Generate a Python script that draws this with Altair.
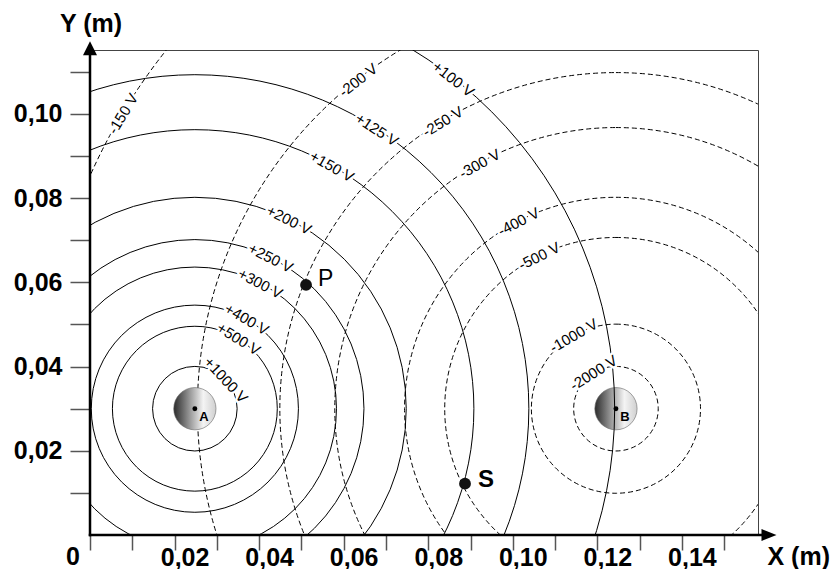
import altair as alt
import pandas as pd
import numpy as np

FONT = "Liberation Sans"

# ---- charges ----
charge_names = ["A", "B"]
charge_x = [0.0248, 0.1244]
charge_y = [0.0300, 0.0300]
sphere_radius = [0.0050, 0.0050]

# ---- equipotentials around A (solid) ----
a_labels = ["+1000 V", "+500 V", "+400 V", "+300 V", "+250 V", "+200 V", "+150 V", "+125 V", "+100 V"]
a_radius = [0.0100, 0.0195, 0.0245, 0.0335, 0.0400, 0.0500, 0.0660, 0.0790, 0.0993]
a_label_dir = [43, 58, 60, 62.5, 63.4, 63.6, 60.6, 57, 52]   # degrees around A where the label sits

# ---- equipotentials around B (dashed) ----
b_labels = ["-2000 V", "-1000 V", "-500 V", "-400 V", "-300 V", "-250 V", "-200 V", "-150 V"]
b_radius = [0.0100, 0.0200, 0.0405, 0.0500, 0.0665, 0.0795, 0.0990, 0.1360]
b_label_dir = [122, 120, 116.6, 117.4, 119, 121, 128, 149]

# ---- marked points ----
point_names = ["P", "S"]
point_x = [0.0511, 0.0887]
point_y = [0.0594, 0.0122]

# ---- ticks ----
x_ticks = [0.0, 0.01, 0.02, 0.03, 0.04, 0.05, 0.06, 0.07, 0.08, 0.09, 0.10, 0.11, 0.12, 0.13, 0.14, 0.15]
y_ticks = [0.01, 0.02, 0.03, 0.04, 0.05, 0.06, 0.07, 0.08, 0.09, 0.10, 0.11]

X_DOMAIN = [0.0, 0.158]
Y_DOMAIN = [0.0, 0.1152]
W, H = 668, 485

xs = alt.Scale(domain=X_DOMAIN, nice=False, zero=False)
ys = alt.Scale(domain=Y_DOMAIN, nice=False, zero=False)
rs = alt.Scale(type="linear", domain=[0, X_DOMAIN[1]], range=[0, W], zero=True, nice=False)


def rings_df(i, radii, labels, dirs):
    cx, cy = charge_x[i], charge_y[i]
    r = np.array(radii)
    phi = np.radians(np.array(dirs, dtype=float))
    return pd.DataFrame({
        "cx": cx, "cy": cy, "r": r, "label": labels,
        "lx": cx + r * np.cos(phi),
        "ly": cy + r * np.sin(phi),
        "ang": (90 - np.array(dirs, dtype=float)) % 360,
    })


dfA = rings_df(0, a_radius, a_labels, a_label_dir)
dfB = rings_df(1, b_radius, b_labels, b_label_dir)
dfL = pd.concat([dfA, dfB], ignore_index=True)
dfC = pd.DataFrame({"name": charge_names, "x": charge_x, "y": charge_y, "r": sphere_radius})
dfP = pd.DataFrame({"name": point_names, "x": point_x, "y": point_y})

lab_expr_x = "(datum.value > 0.001 && round(datum.value*100) % 2 == 0) ? replace(format(datum.value, '.2f'), '.', ',') : ''"
lab_expr_y = "(round(datum.value*100) % 2 == 0) ? replace(format(datum.value, '.2f'), '.', ',') : ''"

xaxis = alt.Axis(values=x_ticks, labelExpr=lab_expr_x, domain=False, grid=False,
                 tickSize=15, tickColor="#555", tickWidth=1.5,
                 labelFont=FONT, labelFontSize=25, labelFontWeight="bold", labelColor="black",
                 labelOffset=10, labelPadding=15, labelBaseline="alphabetic",
                 labelFlush=False, labelOverlap=False, labelBound=False,
                 title="X (m)", titleFont=FONT, titleFontSize=25, titleFontWeight="bold",
                 titleColor="black", titleX=677, titleY=29, titleAlign="left",
                 titleBaseline="alphabetic", titleAngle=0)
yaxis = alt.Axis(values=y_ticks, labelExpr=lab_expr_y, domain=False, grid=False,
                 tickSize=20, tickColor="#555", tickWidth=1.5,
                 labelFont=FONT, labelFontSize=25, labelFontWeight="bold", labelColor="black",
                 labelPadding=8, labelFlush=False, labelOverlap=False, labelBound=False,
                 title="Y (m)", titleFont=FONT, titleFontSize=25, titleFontWeight="bold",
                 titleColor="black", titleX=0.5, titleY=-19, titleAlign="center",
                 titleBaseline="alphabetic", titleAngle=0)


def X(f):
    return alt.X(f, scale=xs, axis=xaxis)


def Y(f):
    return alt.Y(f, scale=ys, axis=yaxis)


R = alt.Radius("r:Q", scale=rs, stack=False)

ringsB = alt.Chart(dfB).mark_arc(theta=0, theta2=6.2832, fill="white", fillOpacity=0,
                                 stroke="black", strokeWidth=1, strokeDash=[5, 3], clip=True).encode(
    x=X("cx:Q"), y=Y("cy:Q"), radius=R)

grad = alt.LinearGradient(gradient="linear",
                          stops=[alt.GradientStop(offset=0, color="#2b2b2b"),
                                 alt.GradientStop(offset=0.7, color="#f4f4f4"),
                                 alt.GradientStop(offset=1, color="#cfcfcf")],
                          x1=0, x2=1, y1=0.5, y2=0.5)

spheres = alt.Chart(dfC).mark_arc(theta=0, theta2=6.2832, fill=grad, stroke="#666",
                                  strokeWidth=0.6).encode(x=X("x:Q"), y=Y("y:Q"), radius=R)

ringsA = alt.Chart(dfA).mark_arc(theta=0, theta2=6.2832, fill="white", fillOpacity=0,
                                 stroke="black", strokeWidth=1, clip=True).encode(
    x=X("cx:Q"), y=Y("cy:Q"), radius=R)

text_enc = dict(x=X("lx:Q"), y=Y("ly:Q"), text="label:N", angle=alt.Angle("ang:Q", scale=None))
halo = alt.Chart(dfL).mark_text(font=FONT, fontSize=15, align="center", baseline="middle",
                                fill="white", stroke="white", strokeWidth=5,
                                strokeJoin="round").encode(**text_enc)
labels = alt.Chart(dfL).mark_text(font=FONT, fontSize=15, align="center", baseline="middle",
                                  color="black").encode(**text_enc)

center_dots = alt.Chart(dfC).mark_circle(size=24, color="black", opacity=1).encode(
    x=X("x:Q"), y=Y("y:Q"))
charge_text = alt.Chart(dfC).mark_text(font=FONT, fontSize=13, fontWeight="bold", dx=9, dy=8,
                                       color="black").encode(x=X("x:Q"), y=Y("y:Q"), text="name:N")

p_dots = alt.Chart(dfP).mark_circle(size=140, color="#111", opacity=1).encode(
    x=X("x:Q"), y=Y("y:Q"))
p_text = alt.Chart(dfP[dfP.name == "P"]).mark_text(font=FONT, fontSize=23, align="left",
                                                   baseline="middle", dx=12, dy=-6,
                                                   color="black").encode(
    x=X("x:Q"), y=Y("y:Q"), text="name:N")
s_text = alt.Chart(dfP[dfP.name == "S"]).mark_text(font=FONT, fontSize=24, fontWeight="bold",
                                                   align="left", baseline="middle", dx=13, dy=-4,
                                                   color="black").encode(
    x=X("x:Q"), y=Y("y:Q"), text="name:N")

# axis lines with arrows
axis_x_end = 0.1590
axis_y_end = 0.1145
x_arrow = 0.1606
y_arrow = 0.1156
xline = alt.Chart(pd.DataFrame({"x": [0.0], "x2": [axis_x_end], "y": [0.0]})).mark_rule(
    strokeWidth=2.5, color="black", strokeCap="square").encode(x=X("x:Q"), x2="x2:Q", y=Y("y:Q"))
yline = alt.Chart(pd.DataFrame({"x": [0.0], "y": [0.0], "y2": [axis_y_end]})).mark_rule(
    strokeWidth=2.5, color="black", strokeCap="square").encode(x=X("x:Q"), y=Y("y:Q"), y2="y2:Q")
xhead = alt.Chart(pd.DataFrame({"x": [x_arrow], "y": [0.0]})).mark_point(
    shape="M-1,-0.8L1,0L-1,0.8Z", filled=True, size=225, color="black", opacity=1).encode(
    x=X("x:Q"), y=Y("y:Q"))
yhead = alt.Chart(pd.DataFrame({"x": [0.0], "y": [y_arrow]})).mark_point(
    shape="M-1,1L0,-1L1,1Z", filled=True, size=196, color="black", opacity=1).encode(
    x=X("x:Q"), y=Y("y:Q"))
zero = alt.Chart(pd.DataFrame({"x": [0.0], "y": [0.0], "t": ["0"]})).mark_text(
    font=FONT, fontSize=25, fontWeight="bold", dx=-17, dy=30, baseline="alphabetic",
    color="black").encode(x=X("x:Q"), y=Y("y:Q"), text="t:N")

chart = alt.layer(
    ringsB, spheres, ringsA, halo, labels, center_dots, charge_text,
    p_dots, p_text, s_text, xline, yline, xhead, yhead, zero
).properties(
    width=W, height=H,
    padding={"left": 82, "top": 42, "right": 72, "bottom": 34},
    autosize=alt.AutoSizeParams(type="none"),
    background="white",
).configure_view(stroke="#444", strokeWidth=1)

chart.save("out.html", embed_options={"renderer": "svg", "actions": False})
